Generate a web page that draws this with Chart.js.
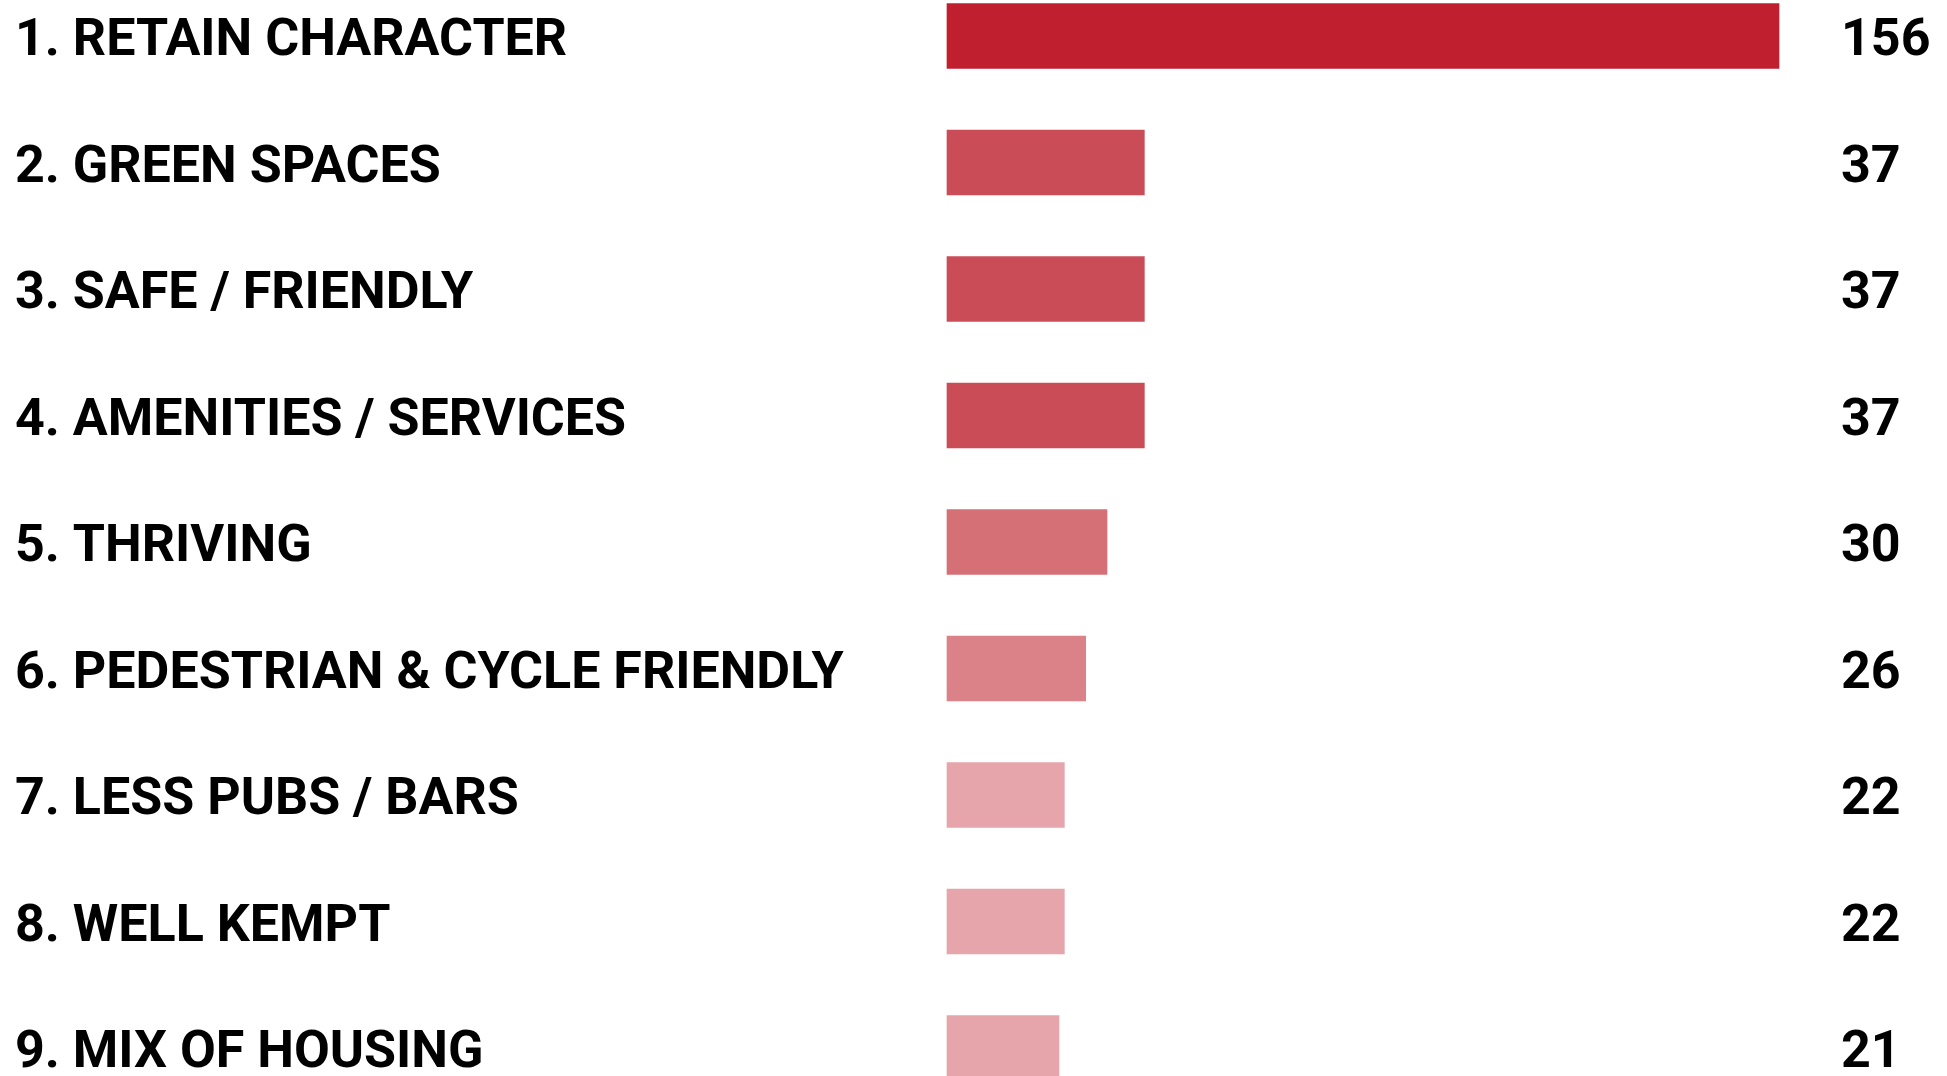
<!DOCTYPE html>
<html>
<head>
<meta charset="utf-8">
<script src="https://cdn.jsdelivr.net/npm/chart.js@4.4.1/dist/chart.umd.min.js"></script>
<style>
  html, body { margin: 0; padding: 0; background: #fff; }
  #wrap { position: relative; width: 1947px; height: 1076px; overflow: hidden; }
</style>
</head>
<body>
<div id="wrap"><canvas id="chart"></canvas></div>
<script>
// Valores del gráfico
const categories = [
    '1. RETAIN CHARACTER',
    '2. GREEN SPACES',
    '3. SAFE / FRIENDLY',
    '4. AMENITIES / SERVICES',
    '5. THRIVING',
    '6. PEDESTRIAN & CYCLE FRIENDLY',
    '7. LESS PUBS / BARS',
    '8. WELL KEMPT',
    '9. MIX OF HOUSING'
];
const counts = [156, 37, 37, 37, 30, 26, 22, 22, 21];
const barColors = ['#bf1f2f', '#c94c57', '#c94c57', '#c94c57', '#d57077', '#db8188', '#e6a5ab', '#e6a5ab', '#e6a5ab'];

const FONT = 'Roboto, "DejaVu Sans", sans-serif';
const LABEL_SHIFT = 6; // los textos quedan algo más abajo que el centro de la barra

// Números a la derecha de cada barra
const valueLabels = {
    id: 'valueLabels',
    afterDatasetsDraw(chart) {
        const { ctx } = chart;
        const yScale = chart.scales.y;
        ctx.save();
        ctx.font = `bold 52px ${FONT}`;
        ctx.fillStyle = '#000';
        ctx.textAlign = 'left';
        ctx.textBaseline = 'middle';
        counts.forEach((v, i) => {
            ctx.fillText(String(v), 1841, yScale.getPixelForValue(i) + LABEL_SHIFT);
        });
        ctx.restore();
    }
};

new Chart(document.getElementById('chart'), {
    type: 'bar',
    data: {
        labels: categories,
        datasets: [{
            data: counts,
            backgroundColor: barColors,
            borderWidth: 0,
            barThickness: 65,
            clip: false
        }]
    },
    options: {
        indexAxis: 'y',
        responsive: true,
        maintainAspectRatio: false,
        animation: false,
        layout: { padding: { left: 15, right: 168, top: 36, bottom: 28 } },
        scales: {
            x: { display: false, min: 0, max: 156 },
            y: {
                offset: false,
                grid: { display: false },
                border: { display: false },
                afterFit: (axis) => {
                    axis.width = 932;
                    axis.paddingTop = 0;
                    axis.paddingBottom = 0;
                },
                ticks: {
                    crossAlign: 'far',
                    labelOffset: LABEL_SHIFT,
                    color: '#000',
                    padding: 0,
                    font: { family: FONT, weight: 'bold', size: 52 }
                }
            }
        },
        plugins: {
            legend: { display: false },
            tooltip: { enabled: false }
        }
    },
    plugins: [valueLabels]
});
</script>
</body>
</html>
